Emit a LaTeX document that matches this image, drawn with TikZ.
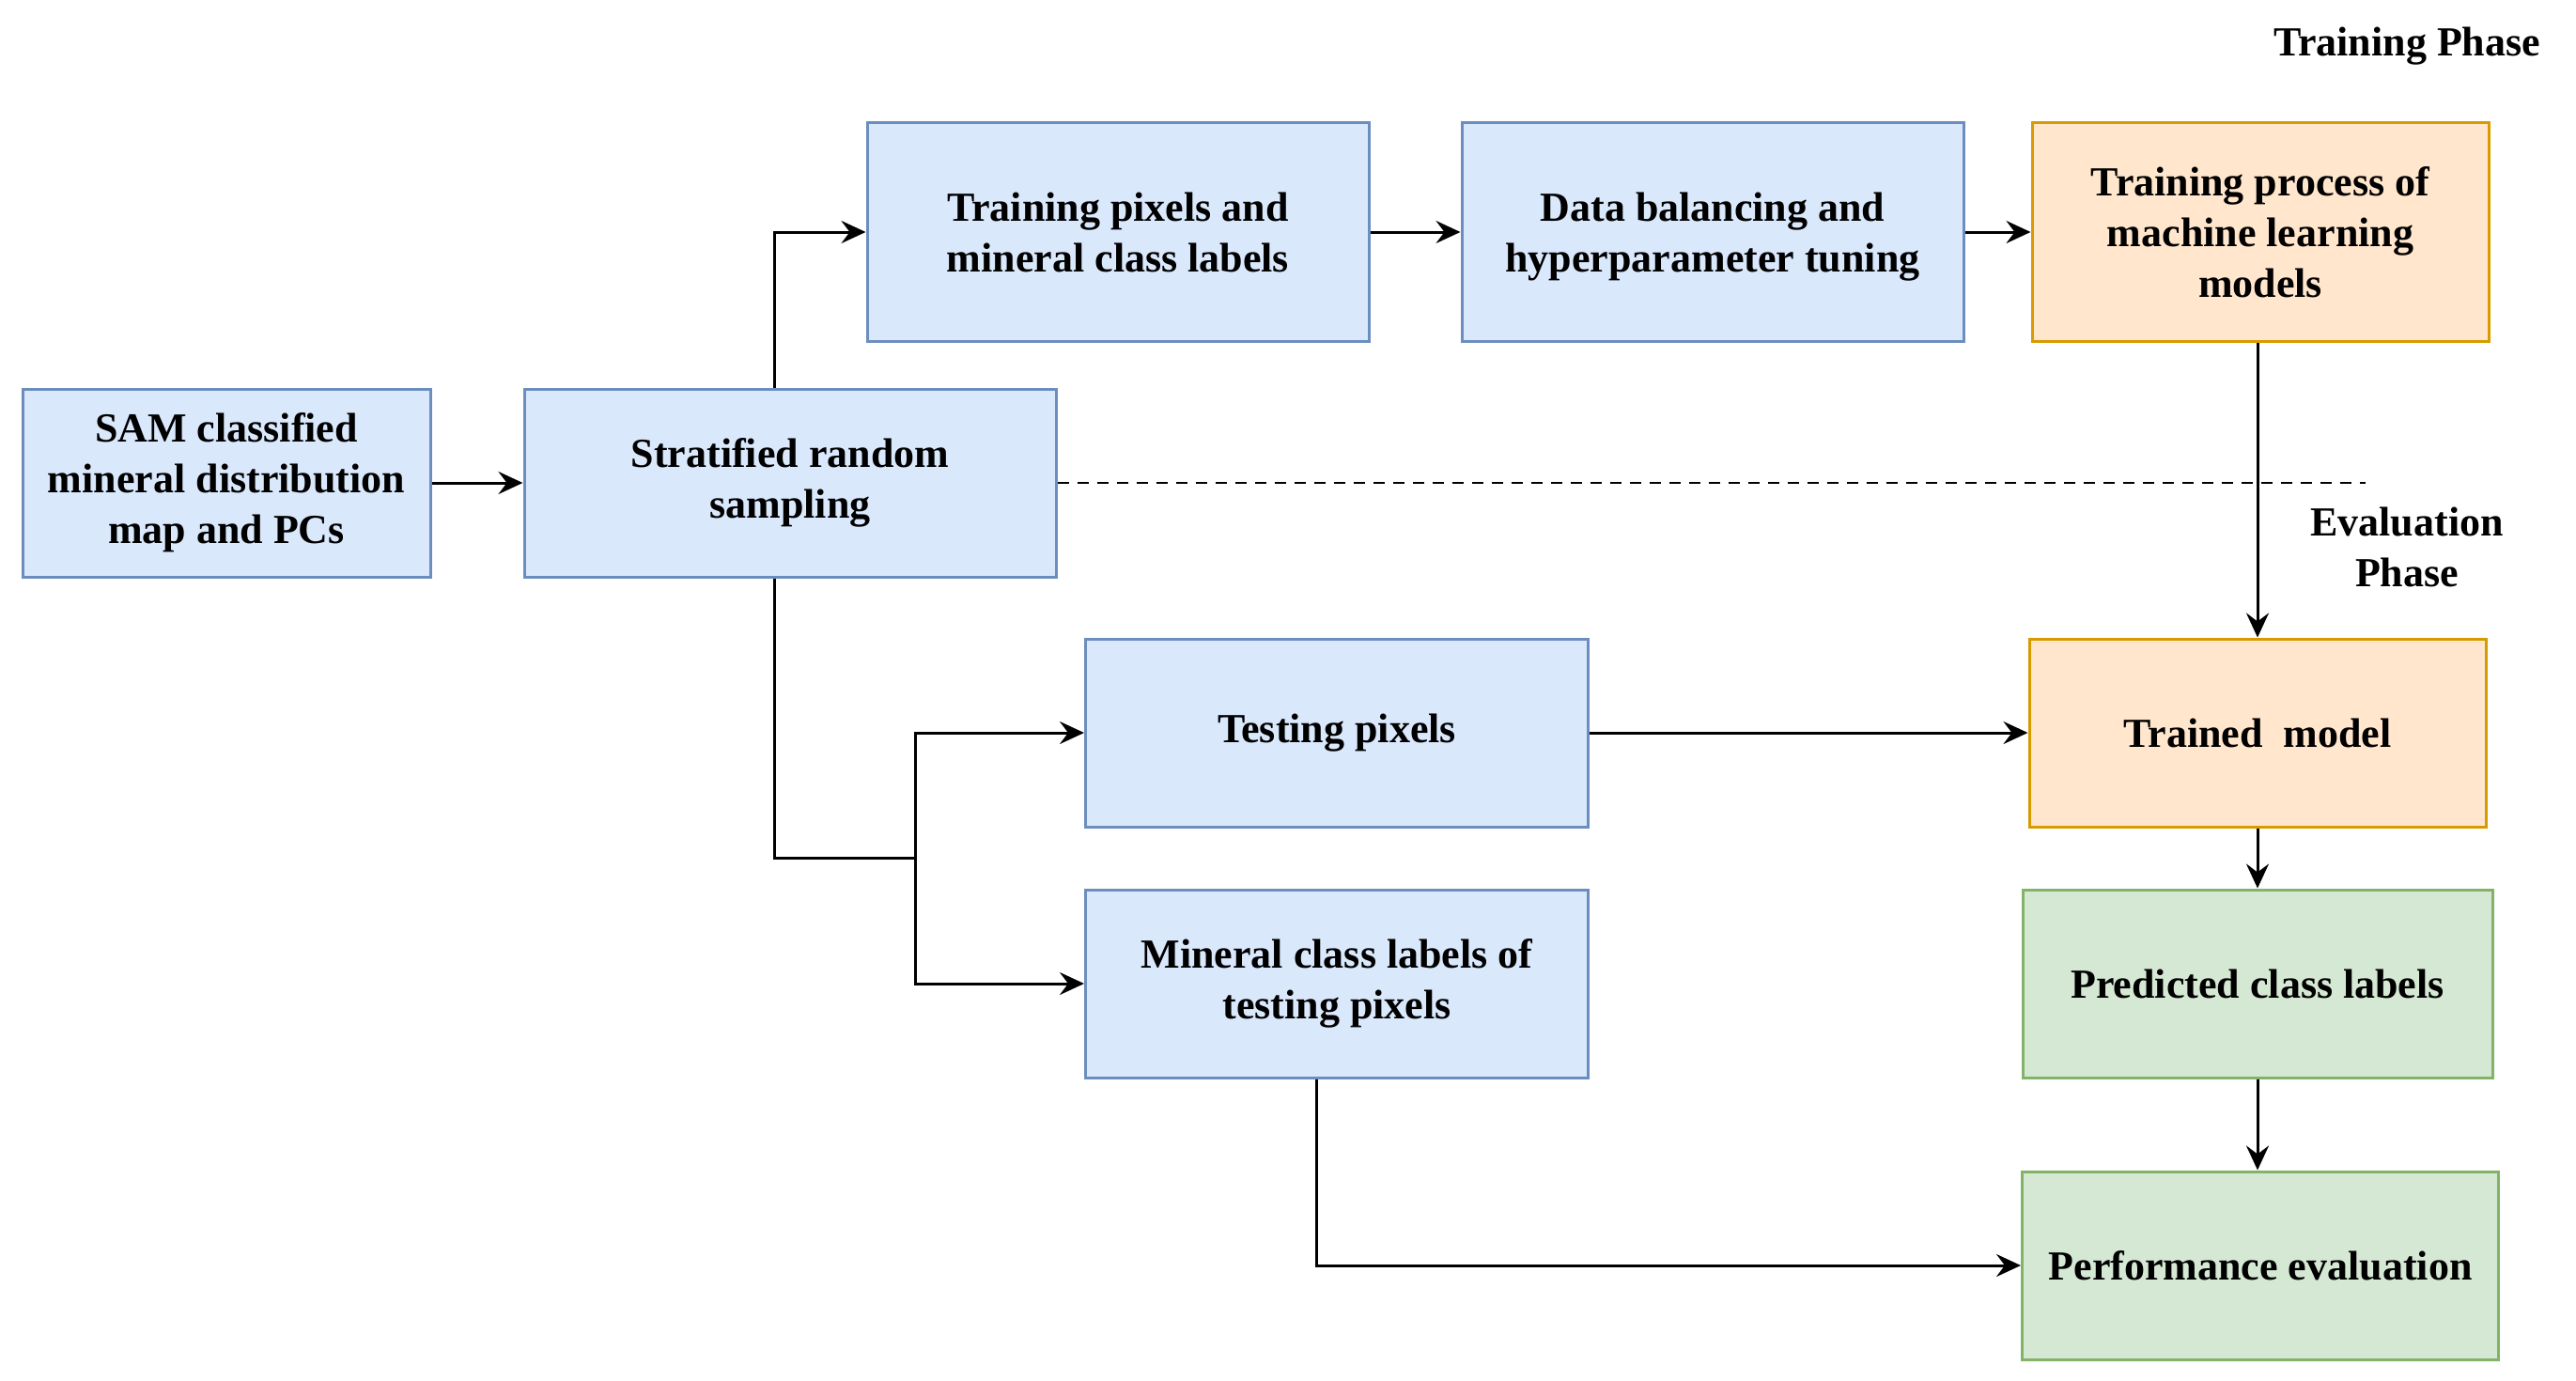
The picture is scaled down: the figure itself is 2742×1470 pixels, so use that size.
\documentclass[tikz,border=0pt]{standalone}
\usepackage{fontspec}
\setmainfont{Liberation Serif}
\usetikzlibrary{arrows.meta}
\definecolor{bfill}{HTML}{DAE8FC}
\definecolor{bline}{HTML}{6C8EBF}
\definecolor{ofill}{HTML}{FFE6CC}
\definecolor{oline}{HTML}{D79B00}
\definecolor{gfill}{HTML}{D5E8D4}
\definecolor{gline}{HTML}{82B366}
\begin{document}
\begin{tikzpicture}[x=1pt,y=-1pt,
  box/.style={rectangle, line width=3pt, align=center, inner sep=4pt,
    font=\fontsize{44}{54}\selectfont\bfseries},
  bluebox/.style={box, draw=bline, fill=bfill},
  orangebox/.style={box, draw=oline, fill=ofill},
  greenbox/.style={box, draw=gline, fill=gfill},
  lbl/.style={align=center, font=\fontsize{44}{54}\selectfont\bfseries},
  arr/.style={line width=3pt, -{Stealth[length=26pt,width=24pt,inset=9pt]}},
  ln/.style={line width=3pt}]
\useasboundingbox (0,0) rectangle (2742,1470);
\node[bluebox, minimum width=434pt, minimum height=200pt] (sam) at (241,514) {SAM classified\\mineral distribution\\map and PCs};
\node[bluebox, minimum width=566pt, minimum height=200pt] (strat) at (841,514) {Stratified random\\sampling};
\node[bluebox, minimum width=534pt, minimum height=233pt] (tp) at (1190,247) {Training pixels and\\mineral class labels};
\node[bluebox, minimum width=534pt, minimum height=233pt] (db) at (1823,247) {Data balancing and\\\raisebox{0pt}[\height][0pt]{hyperparameter tuning}};
\node[orangebox, minimum width=486pt, minimum height=233pt] (tpr) at (2406,247) {Training process of\\machine learning\\models};
\node[bluebox, minimum width=535pt, minimum height=200pt] (testp) at (1423,780) {Testing pixels};
\node[bluebox, minimum width=535pt, minimum height=200pt] (mcl) at (1423,1047) {Mineral class labels of\\testing pixels};
\node[orangebox, minimum width=486pt, minimum height=200pt] (tm) at (2403,780) {Trained\ \ model};
\node[greenbox, minimum width=500pt, minimum height=200pt] (pred) at (2403,1047) {Predicted class labels};
\node[greenbox, minimum width=507pt, minimum height=200pt] (perf) at (2406,1347) {Performance evaluation};
\node[lbl] (trph) at (2562,49) {Training Phase};
\node[lbl] (evph) at (2562,582) {Evaluation\\Phase};
\coordinate (dashend) at (2518,514);
\coordinate (br) at (974,913);
\draw[arr] (sam.east) -- (strat.west);
\draw[arr] ([xshift=-17pt]strat.north) |- (tp.west);
\draw[arr] (tp.east) -- (db.west);
\draw[arr] (db.east) -- (tpr.west);
\draw[ln] ([xshift=-17pt]strat.south) |- (br);
\draw[arr] (br) |- (testp.west);
\draw[arr] (br) |- (mcl.west);
\draw[arr] (testp.east) -- (tm.west);
\draw[arr] ([xshift=-22pt]mcl.south) |- (perf.west);
\draw[arr] ([xshift=-3pt]tpr.south) -- ([xshift=-3pt]tpr.south |- tm.north);
\draw[arr] (tm.south) -- (pred.north);
\draw[arr] (pred.south) -- (pred.south |- perf.north);
\draw[line width=2pt, dash pattern=on 12pt off 9pt] (strat.east) -- (dashend);
\end{tikzpicture}
\end{document}
